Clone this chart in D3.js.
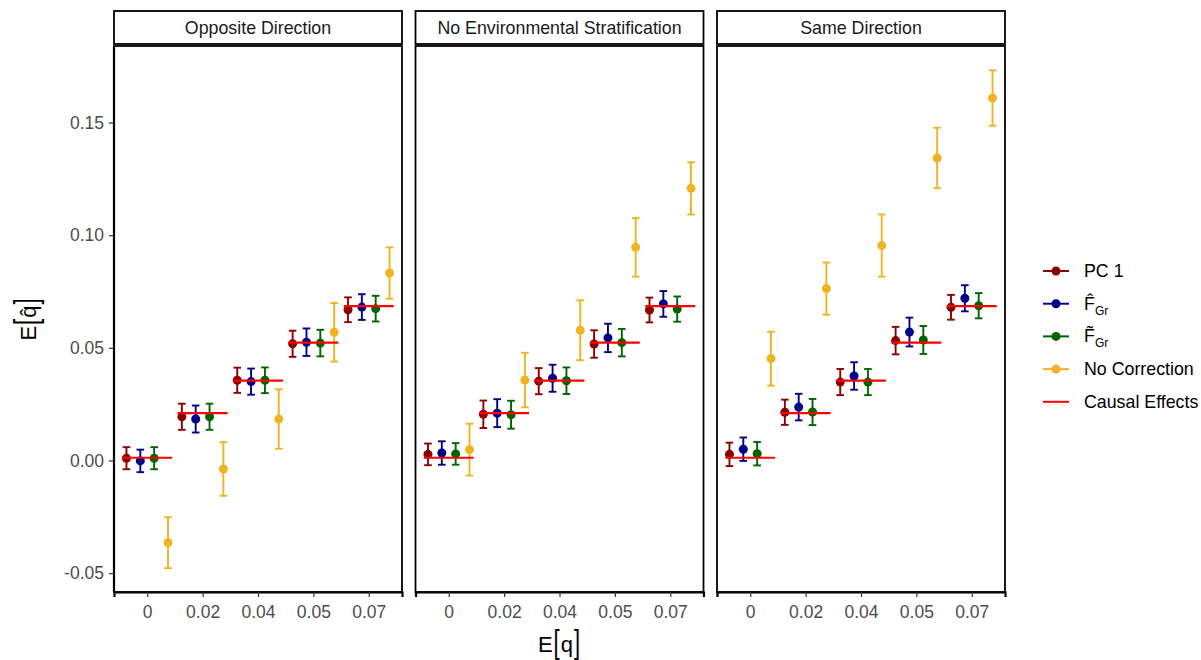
<!DOCTYPE html>
<html>
<head>
<meta charset="utf-8">
<script src="https://cdn.jsdelivr.net/npm/d3@7"></script>
<style>
  body { margin: 0; background: #fff; }
  text { font-family: "Liberation Sans", Arial, Helvetica, sans-serif; }
</style>
</head>
<body>
<svg id="chart" width="1201" height="660"></svg>
<script>
// categories on the x axis (rounded true effect sizes)
const categories = ["0", "0.02", "0.04", "0.05", "0.07"]
const panels = ["Opposite Direction", "No Environmental Stratification", "Same Direction"]
const methods = ["PC 1", "Fhat", "Ftilde", "No Correction"]
const methodColors = ["#8b0000", "#00008b", "#006400", "#eeb422"]
const causalColor = "#ff0000"

// estimates, one row per panel
const pc1Est = [
  [0.0010, 0.0194, 0.0356, 0.0518, 0.0669],
  [0.0027, 0.0205, 0.0352, 0.0517, 0.0668],
  [0.0027, 0.0214, 0.0348, 0.0532, 0.0680]]
const pc1Err = [
  [0.0049, 0.0058, 0.0056, 0.0058, 0.0055],
  [0.0048, 0.0061, 0.0058, 0.0061, 0.0055],
  [0.0052, 0.0056, 0.0058, 0.0061, 0.0055]]
const fhatEst = [
  [-0.0002, 0.0184, 0.0350, 0.0525, 0.0681],
  [0.0033, 0.0210, 0.0365, 0.0544, 0.0695],
  [0.0050, 0.0237, 0.0375, 0.0570, 0.0720]]
const fhatErr = [
  [0.0050, 0.0060, 0.0058, 0.0061, 0.0057],
  [0.0052, 0.0062, 0.0060, 0.0063, 0.0057],
  [0.0052, 0.0059, 0.0061, 0.0064, 0.0058]]
const ftildeEst = [
  [0.0010, 0.0194, 0.0356, 0.0521, 0.0674],
  [0.0029, 0.0203, 0.0354, 0.0523, 0.0672],
  [0.0030, 0.0215, 0.0348, 0.0535, 0.0687]]
const ftildeErr = [
  [0.0049, 0.0058, 0.0057, 0.0059, 0.0057],
  [0.0048, 0.0062, 0.0059, 0.0061, 0.0056],
  [0.0052, 0.0058, 0.0058, 0.0062, 0.0056]]
const noCorrEst = [
  [-0.0365, -0.0038, 0.0184, 0.0569, 0.0832],
  [0.0048, 0.0357, 0.0578, 0.0946, 0.1208],
  [0.0452, 0.0763, 0.0954, 0.1343, 0.1609]]
const noCorrErr = [
  [0.0113, 0.0119, 0.0132, 0.0130, 0.0114],
  [0.0115, 0.0121, 0.0133, 0.0130, 0.0116],
  [0.0120, 0.0116, 0.0138, 0.0134, 0.0123]]
const causalEffects = [0.0012, 0.0210, 0.0354, 0.0523, 0.0685]
const yTicks = [-0.05, 0, 0.05, 0.10, 0.15]

const estimates = [pc1Est, fhatEst, ftildeEst, noCorrEst]
const errors = [pc1Err, fhatErr, ftildeErr, noCorrErr]

const svg = d3.select("#chart")
const panelX = [114, 415.5, 717], panelW = 288
const panelTop = 46, panelBottom = 592
const tickCol = "#333333", labCol = "#4d4d4d"

const y = d3.scaleLinear().domain([-0.0584, 0.184]).range([panelBottom, panelTop])

// draw a small plotmath-like label: E [ q ] with tall brackets
function mathLabel(g, pieces) {
  let cx = 0
  pieces.forEach(p => {
    if (p.bracket) {
      const t = g.append("text").text(p.t).attr("font-size", 22).attr("y", 5.7)
        .attr("fill", "#000")
      const w = t.node().getComputedTextLength()
      t.attr("transform", `translate(${cx},-8) scale(1,1.55)`)
      cx += w + 1
    } else {
      const t = g.append("text").text(p.t).attr("font-size", 22).attr("x", cx).attr("fill", "#000")
      cx += t.node().getComputedTextLength() + 1
    }
  })
  g.selectAll("text").each(function() {
    const s = d3.select(this)
    if (s.attr("transform")) {
      s.attr("transform", s.attr("transform").replace(/translate\(([-\d.]+)/, (m, a) => "translate(" + (+a - cx / 2)))
    } else {
      s.attr("x", +s.attr("x") - cx / 2)
    }
  })
}

panels.forEach((name, p) => {
  const g = svg.append("g").attr("transform", `translate(${panelX[p]},0)`)
  const x = d3.scalePoint().domain(categories).range([0, panelW]).padding(0.6)
  const step = x.step()
  const dodge = i => (i - 1.5) * 0.25 * step
  const capW = 3.8

  // strip
  g.append("rect").attr("x", 0).attr("y", 11).attr("width", panelW).attr("height", 33)
    .attr("fill", "#fff").attr("stroke", "#000").attr("stroke-width", 1.8)
  g.append("text").attr("x", panelW / 2).attr("y", 28).attr("text-anchor", "middle")
    .attr("dominant-baseline", "central").attr("font-size", 17.8).attr("fill", "#1a1a1a").text(name)

  // panel border
  g.append("rect").attr("x", 0).attr("y", panelTop).attr("width", panelW)
    .attr("height", panelBottom - panelTop).attr("fill", "none").attr("stroke", "#000").attr("stroke-width", 1.8)

  // x axis
  const xa = g.append("g").attr("transform", `translate(0,${panelBottom})`)
    .call(d3.axisBottom(x).tickSize(5).tickPadding(9))
  xa.select(".domain").attr("stroke", "#000").attr("stroke-width", 2.2)
  xa.selectAll(".tick line").attr("stroke", tickCol).attr("stroke-width", 1.2)
  xa.selectAll(".tick text").attr("font-size", 17.5).attr("fill", labCol)
    .attr("font-family", "Liberation Sans, Arial, sans-serif")

  if (p === 0) {
    const ya = g.append("g").call(d3.axisLeft(y).tickValues(yTicks).tickSize(5).tickPadding(5)
      .tickFormat(d => d3.format(".2f")(d).replace("\u2212", "-")))
    ya.select(".domain").attr("stroke", "#000").attr("stroke-width", 2.2)
      .attr("d", `M0,${panelTop}V${panelBottom}`)
    ya.selectAll(".tick line").attr("stroke", tickCol).attr("stroke-width", 1.2)
    ya.selectAll(".tick text").attr("font-size", 17.5).attr("fill", labCol)
      .attr("font-family", "Liberation Sans, Arial, sans-serif")
  }

  // error bars and points
  methods.forEach((m, i) => {
    const col = methodColors[i]
    categories.forEach((c, j) => {
      const cx = x(c) + dodge(i)
      const est = estimates[i][p][j], err = errors[i][p][j]
      const lo = y(est - err), hi = y(est + err)
      const eb = g.append("g").attr("stroke", col).attr("stroke-width", 1.9).attr("fill", "none")
      eb.append("line").attr("x1", cx).attr("x2", cx).attr("y1", lo).attr("y2", hi)
      eb.append("line").attr("x1", cx - capW).attr("x2", cx + capW).attr("y1", lo).attr("y2", lo)
      eb.append("line").attr("x1", cx - capW).attr("x2", cx + capW).attr("y1", hi).attr("y2", hi)
      g.append("circle").attr("cx", cx).attr("cy", y(est)).attr("r", 4.5).attr("fill", col)
    })
  })

  // causal effect segments
  categories.forEach((c, j) => {
    g.append("line").attr("x1", x(c) - 0.45 * step).attr("x2", x(c) + 0.45 * step)
      .attr("y1", y(causalEffects[j])).attr("y2", y(causalEffects[j]))
      .attr("stroke", causalColor).attr("stroke-width", 2.2)
  })
})

// axis titles
const xt = svg.append("g").attr("transform", `translate(${(panelX[0] + panelX[2] + panelW) / 2},652)`)
mathLabel(xt, [{t: "E"}, {t: "[", bracket: true}, {t: "q"}, {t: "]", bracket: true}])
const yt = svg.append("g").attr("transform", `translate(36,${(panelTop + panelBottom) / 2}) rotate(-90)`)
mathLabel(yt, [{t: "E"}, {t: "[", bracket: true}, {t: "q\u0302"}, {t: "]", bracket: true}])

// legend
const legend = svg.append("g").attr("transform", "translate(1043,271)")
const legendItems = methods.concat(["Causal Effects"])
legendItems.forEach((m, i) => {
  const li = legend.append("g").attr("transform", `translate(0,${i * 32.7})`)
  const col = i < 4 ? methodColors[i] : causalColor
  li.append("line").attr("x1", 0).attr("x2", 26).attr("stroke", col).attr("stroke-width", 2)
  if (i < 4) li.append("circle").attr("cx", 13).attr("r", 4.5).attr("fill", col)
  const t = li.append("text").attr("x", 41).attr("dominant-baseline", "central")
    .attr("font-size", 17.8).attr("fill", "#000")
  if (m === "Fhat" || m === "Ftilde") {
    t.attr("dominant-baseline", null).attr("y", 6)
    t.append("tspan").text(m === "Fhat" ? "F\u0302" : "F\u0303")
    t.append("tspan").attr("dy", 5).attr("font-size", 12).text("Gr")
  } else {
    t.text(m)
  }
})
</script>
</body>
</html>
